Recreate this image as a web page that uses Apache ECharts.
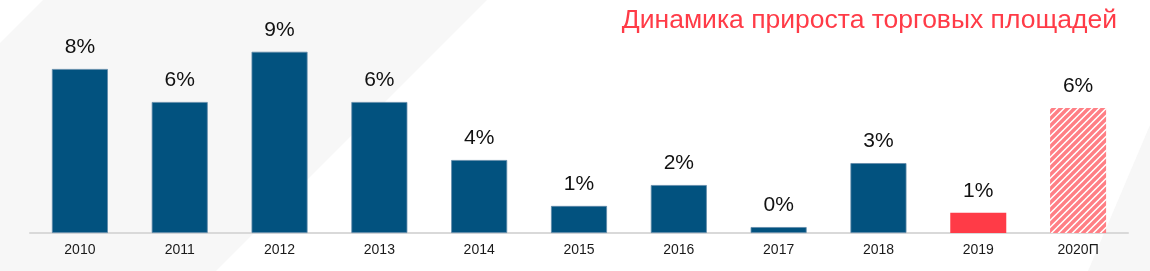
<!DOCTYPE html>
<html>
<head>
<meta charset="utf-8">
<script src="https://cdn.jsdelivr.net/npm/echarts@6/dist/echarts.min.js"></script>
<style>
html,body{margin:0;padding:0;background:#fff;}
#chart{width:1150px;height:271px;}
</style>
</head>
<body>
<div id="chart"></div>
<script>
const title = 'Динамика прироста торговых площадей';
const categories = ['2010','2011','2012','2013','2014','2015','2016','2017','2018','2019','2020П'];
const values = [8.0, 6.39, 8.84, 6.39, 3.56, 1.32, 2.34, 0.29, 3.41, 0.99, 6.10];
const yMax = 10;

function hatch() {
  const s = 7;
  const c = document.createElement('canvas');
  c.width = s; c.height = s;
  const g = c.getContext('2d');
  g.fillStyle = '#ffffff';
  g.fillRect(0, 0, s, s);
  g.strokeStyle = '#ff7f85';
  g.lineWidth = 3.4;
  g.beginPath();
  g.moveTo(-1, s + 1); g.lineTo(s + 1, -1);
  g.moveTo(-1, 1); g.lineTo(1, -1);
  g.moveTo(s - 1, s + 1); g.lineTo(s + 1, s - 1);
  g.stroke();
  return c;
}

const blue = '#02527f';
const red = '#ff3b47';
const font = '"Liberation Sans", Arial, sans-serif';
const data = values.map((v, i) => {
  let style;
  if (i === values.length - 1) style = { color: { image: hatch(), repeat: 'repeat' } };
  else if (i === values.length - 2) style = { color: red };
  else style = { color: blue, borderColor: '#5f89a8', borderWidth: 0.8 };
  return { value: v, itemStyle: style };
});

const chart = echarts.init(document.getElementById('chart'), null, { renderer: 'canvas' });
chart.setOption({
  backgroundColor: 'transparent',
  animation: false,
  graphic: [
    { type: 'rect', z: -10, silent: true, shape: { x: 0, y: 0, width: 1150, height: 271 }, style: { fill: '#f7f7f7' } },
    { type: 'polygon', z: -9, silent: true, shape: { points: [[0,0],[43,0],[0,43]] }, style: { fill: '#ffffff' } },
    { type: 'polygon', z: -9, silent: true, shape: { points: [[487,0],[1150,0],[1150,125],[1088,271],[216,271]] }, style: { fill: '#ffffff' } }
  ],
  title: {
    text: title,
    right: 28,
    top: 2,
    textStyle: { color: red, fontSize: 26.5, fontWeight: 'normal', fontFamily: font }
  },
  grid: { left: 30, right: 22, top: 28, bottom: 38, containLabel: false },
  xAxis: {
    type: 'category',
    data: categories,
    axisLine: { lineStyle: { color: '#d9d9d9', width: 2 } },
    axisTick: { show: false },
    axisLabel: { color: '#1a1a1a', fontSize: 14, margin: 10, fontFamily: font }
  },
  yAxis: { type: 'value', min: 0, max: yMax, show: false, splitLine: { show: false } },
  series: [{
    type: 'bar',
    data: data,
    barWidth: 56,
    label: {
      show: true,
      position: 'top',
      distance: 11,
      color: '#111',
      fontSize: 21,
      fontFamily: font,
      formatter: p => Math.round(p.value) + '%'
    }
  }]
});
</script>
</body>
</html>
